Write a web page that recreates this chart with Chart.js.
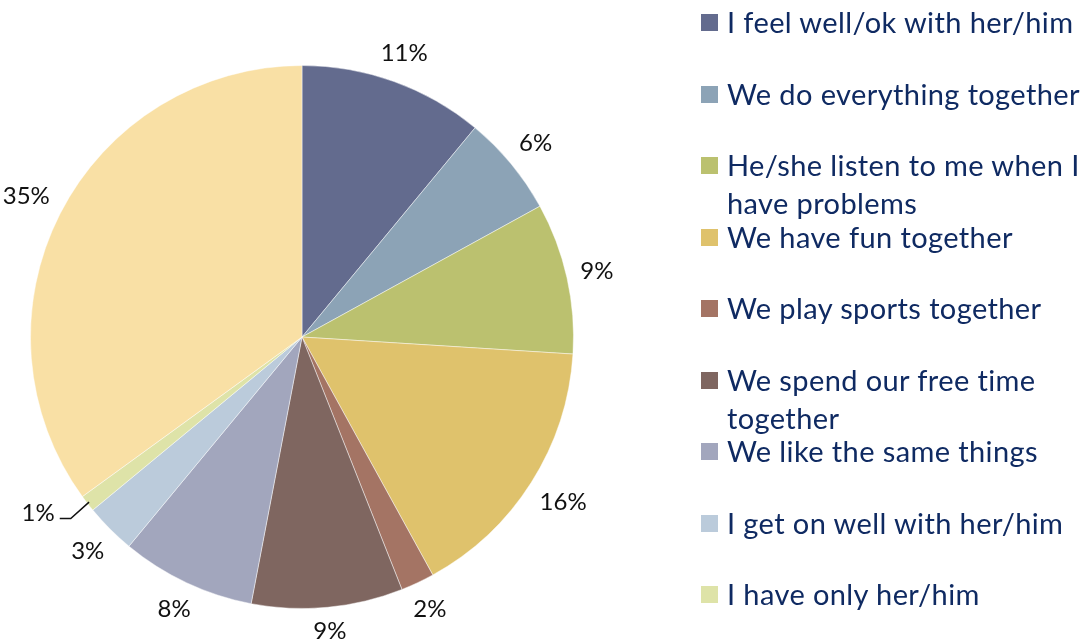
<!DOCTYPE html>
<html lang="en">
<head>
    <meta charset="UTF-8">
    <title>Why is she/he your best friend</title>
    <script src="https://cdn.jsdelivr.net/npm/chart.js"></script>
    <style>
        body { margin: 0; background: #ffffff; }
        #wrap { position: relative; width: 1086px; height: 639px; overflow: hidden; }
        #pieChart { position: absolute; left: 0; top: 0; }
        #legend { position: absolute; left: 701px; top: 3px; font-family: Lato, "Open Sans", sans-serif; color: #0f2a62; }
        .item { position: absolute; left: 0; white-space: nowrap; font-size: 29px; letter-spacing: 0.4px; line-height: 38px; }
        .box { position: absolute; left: 0; top: 11px; width: 17px; height: 17px; }
        .txt { position: absolute; left: 26px; top: 0; }
    </style>
</head>
<body>
<div id="wrap">
    <canvas id="pieChart" width="1086" height="639"></canvas>
    <div id="legend"></div>
</div>
<script>
    var labels = [
        "I feel well/ok with her/him",
        "We do everything together",
        ["He/she listen to me when I", "have problems"],
        "We have fun together",
        "We play sports together",
        ["We spend our free time", "together"],
        "We like the same things",
        "I get on well with her/him",
        "I have only her/him",
        ""
    ];
    var values = [11, 6, 9, 16, 2, 9, 8, 3, 1, 35];
    var colors = ["#636b8e", "#8ca3b6", "#bbc16f", "#dfc26c", "#a47464", "#7f6660",
                  "#a2a6bd", "#bbcbdb", "#dee3a8", "#f9e0a5"];

    var rowStep = 71.5;

    // html legend (the last slice has no legend entry)
    var legend = document.getElementById("legend");
    labels.forEach(function (lab, i) {
        if (lab === "") return;
        var lines = Array.isArray(lab) ? lab : [lab];
        var item = document.createElement("div");
        item.className = "item";
        item.style.top = (i * rowStep) + "px";
        item.innerHTML = '<div class="box" style="background:' + colors[i] + '"></div>' +
            '<div class="txt">' + lines.join("<br>") + '</div>';
        legend.appendChild(item);
    });

    var pctLabels = {
        id: "pctLabels",
        afterDatasetsDraw: function (chart) {
            var ctx = chart.ctx;
            var meta = chart.getDatasetMeta(0);
            ctx.save();
            ctx.font = "24px Lato";
            ctx.fillStyle = "#111111";
            ctx.strokeStyle = "#111111";
            ctx.lineWidth = 1.5;
            ctx.textAlign = "center";
            ctx.textBaseline = "middle";
            meta.data.forEach(function (arc, i) {
                var p = arc.getProps(["x", "y", "startAngle", "endAngle", "outerRadius"], true);
                var mid = (p.startAngle + p.endAngle) / 2;
                var txt = values[i] + "%";
                var w = ctx.measureText(txt).width, h = 22;
                var cx = Math.cos(mid), sy = Math.sin(mid);
                var lx, ly;
                if (values[i] <= 1) {
                    // small slice: pushed out with a leader line
                    var a = mid + 4 * Math.PI / 180;
                    var rr = p.outerRadius + 46;
                    lx = p.x + Math.cos(a) * rr;
                    ly = p.y + Math.sin(a) * rr;
                    var ex = p.x + cx * (p.outerRadius - 2), ey = p.y + sy * (p.outerRadius - 2);
                    ctx.beginPath();
                    ctx.moveTo(ex, ey);
                    ctx.lineTo(lx + w / 2 + 16, ly + 5);
                    ctx.lineTo(lx + w / 2 + 5, ly + 5);
                    ctx.stroke();
                } else {
                    var r = p.outerRadius + 12 + Math.abs(cx) * w / 2 + Math.abs(sy) * h / 2;
                    lx = p.x + cx * r;
                    ly = p.y + sy * r;
                }
                ctx.fillText(txt, lx, ly);
            });
            ctx.restore();
        }
    };

    new Chart(document.getElementById("pieChart"), {
        type: "pie",
        data: {
            labels: labels,
            datasets: [{
                data: values,
                backgroundColor: colors,
                borderColor: "rgba(255,255,255,0.45)",
                borderWidth: 1
            }]
        },
        options: {
            responsive: false,
            animation: false,
            layout: { padding: { left: 30, top: 65, right: 512, bottom: 30 } },
            plugins: {
                legend: { display: false },
                tooltip: { enabled: false }
            }
        },
        plugins: [pctLabels]
    });
</script>
</body>
</html>
